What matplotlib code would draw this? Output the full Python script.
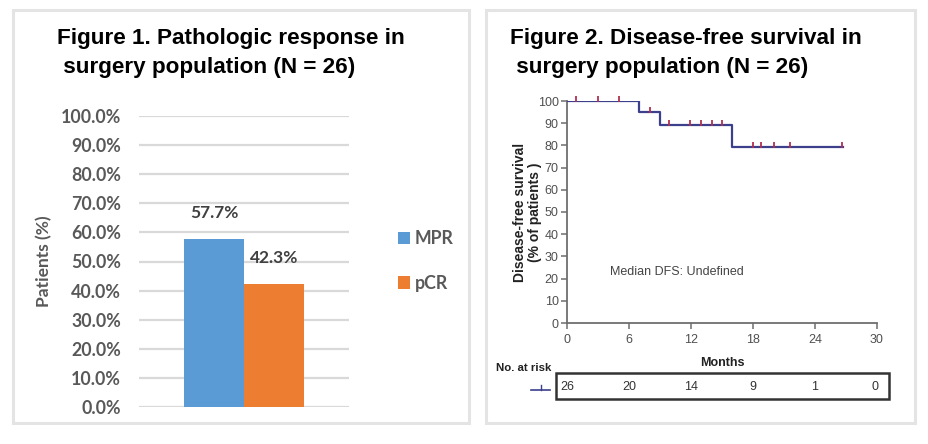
import matplotlib
matplotlib.use("Agg")
import matplotlib.pyplot as plt
from matplotlib.patches import Rectangle, Patch
from matplotlib.lines import Line2D
import matplotlib.transforms as mtransforms
import numpy as np

# ---------------- data ----------------
categories = ["MPR", "pCR"]
response_pct = [57.7, 42.3]
bar_colors = ["#5B9BD5", "#ED7D31"]
y_ticks_pct = [0, 10, 20, 30, 40, 50, 60, 70, 80, 90, 100]

# Kaplan-Meier step curve (months, survival %)
km_times = [0, 7, 9, 16, 26.7]
km_surv = [100, 95, 89.4, 79.5, 79.5]
censor_times = [0.9, 3, 5, 8, 9.9, 11.9, 13, 14, 15, 18, 18.8, 20, 21.6, 26.6]
risk_months = [0, 6, 12, 18, 24, 30]
risk_counts = [26, 20, 14, 9, 1, 0]
x_ticks_months = [0, 6, 12, 18, 24, 30]
y_ticks_dfs = [0, 10, 20, 30, 40, 50, 60, 70, 80, 90, 100]

W, H = 929, 444
fig = plt.figure(figsize=(W / 100, H / 100), dpi=100)
fig.patch.set_facecolor("white")

def fx(px):
    return px / W

def fy(py):
    return 1 - py / H

# panel borders
for (x0, x1) in [(13, 469), (486, 915)]:
    fig.add_artist(Rectangle((fx(x0), fy(423)), fx(x1 - x0), (423 - 10) / H,
                             transform=fig.transFigure, fill=False,
                             edgecolor="#E4E4E4", linewidth=2.2))

# ---------------- Figure 1 ----------------
title_font = dict(family="Liberation Sans", weight="bold", size=16.2, color="black")
fig.text(fx(57), fy(53), "Figure 1. Pathologic response in\n surgery population (N = 26)",
         ha="left", va="center", linespacing=1.45, **title_font)

ax1 = fig.add_axes([fx(139), fy(407), fx(349 - 139), (407 - 116) / H])
xpos = np.arange(len(categories)) + 1.25
ax1.bar(xpos, response_pct, width=1.0, color=bar_colors, zorder=3)
ax1.set_xlim(0, 3.5)
ax1.set_ylim(0, 100)
ax1.set_yticks(y_ticks_pct)
ax1.set_yticklabels([f"{v:.1f}%" for v in y_ticks_pct])
ax1.yaxis.grid(True, color="#D9D9D9", linewidth=1.6, zorder=0)
ax1.set_xticks([])
for s in ax1.spines.values():
    s.set_visible(False)
ax1.tick_params(axis="y", length=0, pad=13, labelsize=12.8, labelcolor="#595959")
for lab in ax1.get_yticklabels():
    lab.set_family("Lato")
    lab.set_weight("bold")
ax1.set_ylabel("Patients (%)", family="Lato", weight="bold", size=12.5,
               color="#595959", labelpad=6)
for x, v in zip(xpos, response_pct):
    ax1.annotate(f"{v:.1f}%", (x, v), xytext=(0, 19), textcoords="offset points",
                 ha="center", va="center", family="Lato", weight="bold",
                 size=12.5, color="#404040")

handles = [Patch(facecolor=c, edgecolor="none") for c in bar_colors]
fig.legend(handles, categories, loc="center left",
           bbox_to_anchor=(fx(389), fy(261)), frameon=False,
           prop=dict(family="Lato", weight="bold", size=12.8),
           labelcolor="#595959", handlelength=0.7, handleheight=0.7,
           handletextpad=0.25, labelspacing=1.55, borderpad=0)

# ---------------- Figure 2 ----------------
fig.text(fx(510), fy(53), "Figure 2. Disease-free survival in\n surgery population (N = 26)",
         ha="left", va="center", linespacing=1.45, **title_font)

ax2 = fig.add_axes([fx(567), fy(323), fx(877 - 567), (323 - 101) / H])
ax2.step(km_times, km_surv, where="post", color="#3C3F8C", linewidth=1.6, zorder=3)
cens_y = [km_surv[np.searchsorted(km_times, t, side="right") - 1] for t in censor_times]
ax2.plot(censor_times, np.array(cens_y) + 0.8, linestyle="none", marker="|",
         markersize=4, markeredgewidth=1.3, color="#B03050", zorder=4, clip_on=False)
ax2.set_xlim(0, 30)
ax2.set_ylim(0, 100)
ax2.set_xticks(x_ticks_months)
ax2.set_yticks(y_ticks_dfs)
for side in ["top", "right"]:
    ax2.spines[side].set_visible(False)
for side in ["left", "bottom"]:
    ax2.spines[side].set_color("#6E6E6E")
    ax2.spines[side].set_linewidth(1.3)
ax2.tick_params(axis="both", direction="out", length=4, width=1.1, color="#6E6E6E",
                labelsize=9, labelcolor="#505050", pad=2)
for lab in ax2.get_xticklabels() + ax2.get_yticklabels():
    lab.set_family("Liberation Sans")
ax2.tick_params(axis="x", pad=4)
ax2.set_xlabel("Months", family="Liberation Sans", weight="bold", size=9,
               color="#222222", labelpad=8)
ax2.set_ylabel("Disease-free survival\n(% of patients )", family="Liberation Sans",
               weight="bold", size=10, color="#222222", labelpad=-3, linespacing=1.05)
ax2.text(4.2, 23, "Median DFS: Undefined", family="Liberation Sans", size=9,
         color="#444444", ha="left", va="center")

# number at risk table
fig.text(fx(524), fy(368), "No. at risk", family="Liberation Sans",
         weight="bold", size=8.2, color="#222222", ha="center", va="center")
fig.add_artist(Rectangle((fx(556), fy(399)), fx(889 - 556), (399 - 373) / H,
                         transform=fig.transFigure, fill=False,
                         edgecolor="#333333", linewidth=1.8))
tr = mtransforms.blended_transform_factory(ax2.transData, fig.transFigure)
for m, n in zip(risk_months, risk_counts):
    fig.text(min(m, 29.8), fy(387), str(n), transform=tr, family="Liberation Sans",
             size=9, color="#333333", ha="center", va="center")
fig.add_artist(Line2D([fx(531), fx(550)], [fy(390), fy(390)], transform=fig.transFigure,
                      color="#3C3F8C", linewidth=1.2))
fig.add_artist(Line2D([fx(541), fx(541)], [fy(390), fy(385)], transform=fig.transFigure,
                      color="#3C3F8C", linewidth=1.0))

fig.savefig("out.png", dpi=100, facecolor="white")
